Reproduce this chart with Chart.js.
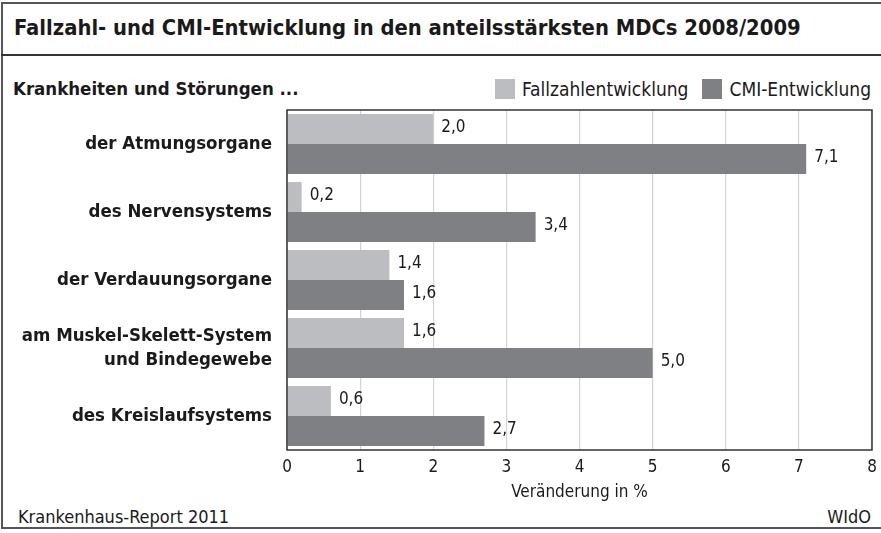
<!DOCTYPE html>
<html>
<head>
<meta charset="utf-8">
<script src="https://cdn.jsdelivr.net/npm/chart.js@4.4.1/dist/chart.umd.min.js"></script>
<style>
    body { margin: 0; background: #fff; }
    .wrap { position: relative; width: 881px; height: 533px; overflow: hidden;
        font-family: 'Liberation Sans Narrow', 'DejaVu Sans Condensed', 'Open Sans', sans-serif; color: #1a1a1a; }
    .frame { position: absolute; left: 1px; top: 2px; width: 890px; height: 527px;
        border: 2px solid #555; box-sizing: border-box; }
    .sep { position: absolute; left: 1px; top: 54px; width: 890px; height: 0; border-top: 2px solid #333; }
    .title { position: absolute; left: 14px; top: 15px; font-size: 21.8px; font-weight: bold; white-space: nowrap; }
    .sub { position: absolute; left: 13px; top: 78px; font-size: 18.5px; font-weight: bold; white-space: nowrap; }
    .legend { position: absolute; right: 10px; top: 78px; font-size: 19px; white-space: nowrap; display: flex; align-items: center; }
    .legend span.box { display: inline-block; width: 20px; height: 20px; margin: 0 7px 0 14px; }
    .foot { position: absolute; top: 506px; font-size: 18px; white-space: nowrap; }
    canvas { position: absolute; left: 0; top: 0; }
</style>
</head>
<body>
<div class="wrap">
    <div class="frame"></div>
    <div class="sep"></div>
    <div class="title">Fallzahl- und CMI-Entwicklung in den anteilsstärksten MDCs 2008/2009</div>
    <div class="sub">Krankheiten und Störungen ...</div>
    <div class="legend" id="legend"></div>
    <div class="foot" style="left:18px">Krankenhaus-Report 2011</div>
    <div class="foot" style="right:10px">WIdO</div>
    <canvas id="mdcChart" width="881" height="533"></canvas>
</div>
<script>
const categories = [
    'der Atmungsorgane',
    'des Nervensystems',
    'der Verdauungsorgane',
    ['am Muskel-Skelett-System', 'und Bindegewebe'],
    'des Kreislaufsystems'
];
const seriesNames = ['Fallzahlentwicklung', 'CMI-Entwicklung'];
const fallzahl = [2.0, 0.2, 1.4, 1.6, 0.6];
const cmi = [7.1, 3.4, 1.6, 5.0, 2.7];
const xTicks = [0, 1, 2, 3, 4, 5, 6, 7, 8];
const colors = ['#bcbdc1', '#7f8083'];

const FONT = "'Liberation Sans Narrow', 'DejaVu Sans Condensed', 'Open Sans', sans-serif";

// legend (HTML)
const legendEl = document.getElementById('legend');
seriesNames.forEach((name, i) => {
    const box = document.createElement('span');
    box.className = 'box';
    box.style.background = colors[i];
    legendEl.appendChild(box);
    legendEl.appendChild(document.createTextNode(name));
});

// value labels behind the bar ends, german decimal comma
const valueLabels = {
    id: 'valueLabels',
    afterDatasetsDraw(chart) {
        const ctx = chart.ctx;
        ctx.save();
        ctx.font = '17px ' + FONT;
        ctx.fillStyle = '#1a1a1a';
        ctx.textBaseline = 'middle';
        ctx.textAlign = 'left';
        chart.data.datasets.forEach((ds, di) => {
            chart.getDatasetMeta(di).data.forEach((bar, i) => {
                const txt = ds.data[i].toFixed(1).replace('.', ',');
                ctx.fillText(txt, bar.x + 8, bar.y - 1);
            });
        });
        ctx.restore();
    }
};

// dark frame round the plot area
const plotFrame = {
    id: 'plotFrame',
    afterDraw(chart) {
        const a = chart.chartArea;
        const ctx = chart.ctx;
        ctx.save();
        ctx.strokeStyle = '#333';
        ctx.lineWidth = 1.5;
        ctx.strokeRect(a.left, a.top, a.right - a.left, a.bottom - a.top);
        ctx.restore();
    }
};

new Chart(document.getElementById('mdcChart'), {
    type: 'bar',
    data: {
        labels: categories,
        datasets: [{
            label: seriesNames[0],
            data: fallzahl,
            backgroundColor: colors[0],
            borderWidth: 0
        }, {
            label: seriesNames[1],
            data: cmi,
            backgroundColor: colors[1],
            borderWidth: 0
        }]
    },
    options: {
        indexAxis: 'y',
        responsive: false,
        animation: false,
        layout: {
            padding: { top: 110, right: 9, bottom: 30, left: 0 }
        },
        datasets: {
            bar: {
                categoryPercentage: 0.88,
                barPercentage: 1.0
            }
        },
        plugins: {
            legend: { display: false },
            tooltip: { enabled: false }
        },
        scales: {
            x: {
                min: xTicks[0],
                max: xTicks[xTicks.length - 1],
                afterBuildTicks: scale => {
                    scale.ticks = xTicks.map(v => ({ value: v }));
                },
                afterFit: scale => {
                    scale.height = 53;
                    scale.paddingLeft = 0;
                    scale.paddingRight = 0;
                },
                grid: {
                    color: '#d4d4d4',
                    lineWidth: 1.2,
                    drawTicks: false
                },
                border: { display: false },
                ticks: {
                    padding: 7,
                    color: '#1a1a1a',
                    font: { family: FONT, size: 17 }
                },
                title: {
                    display: true,
                    text: 'Veränderung in %',
                    color: '#1a1a1a',
                    font: { family: FONT, size: 17 },
                    padding: { top: 4, bottom: 0 }
                }
            },
            y: {
                afterFit: scale => { scale.width = 287; },
                grid: { display: false },
                border: { display: false },
                ticks: {
                    padding: 7,
                    color: '#1a1a1a',
                    font: { family: FONT, size: 18.5, weight: 'bold', lineHeight: 1.3 }
                }
            }
        }
    },
    plugins: [valueLabels, plotFrame]
});
</script>
</body>
</html>
